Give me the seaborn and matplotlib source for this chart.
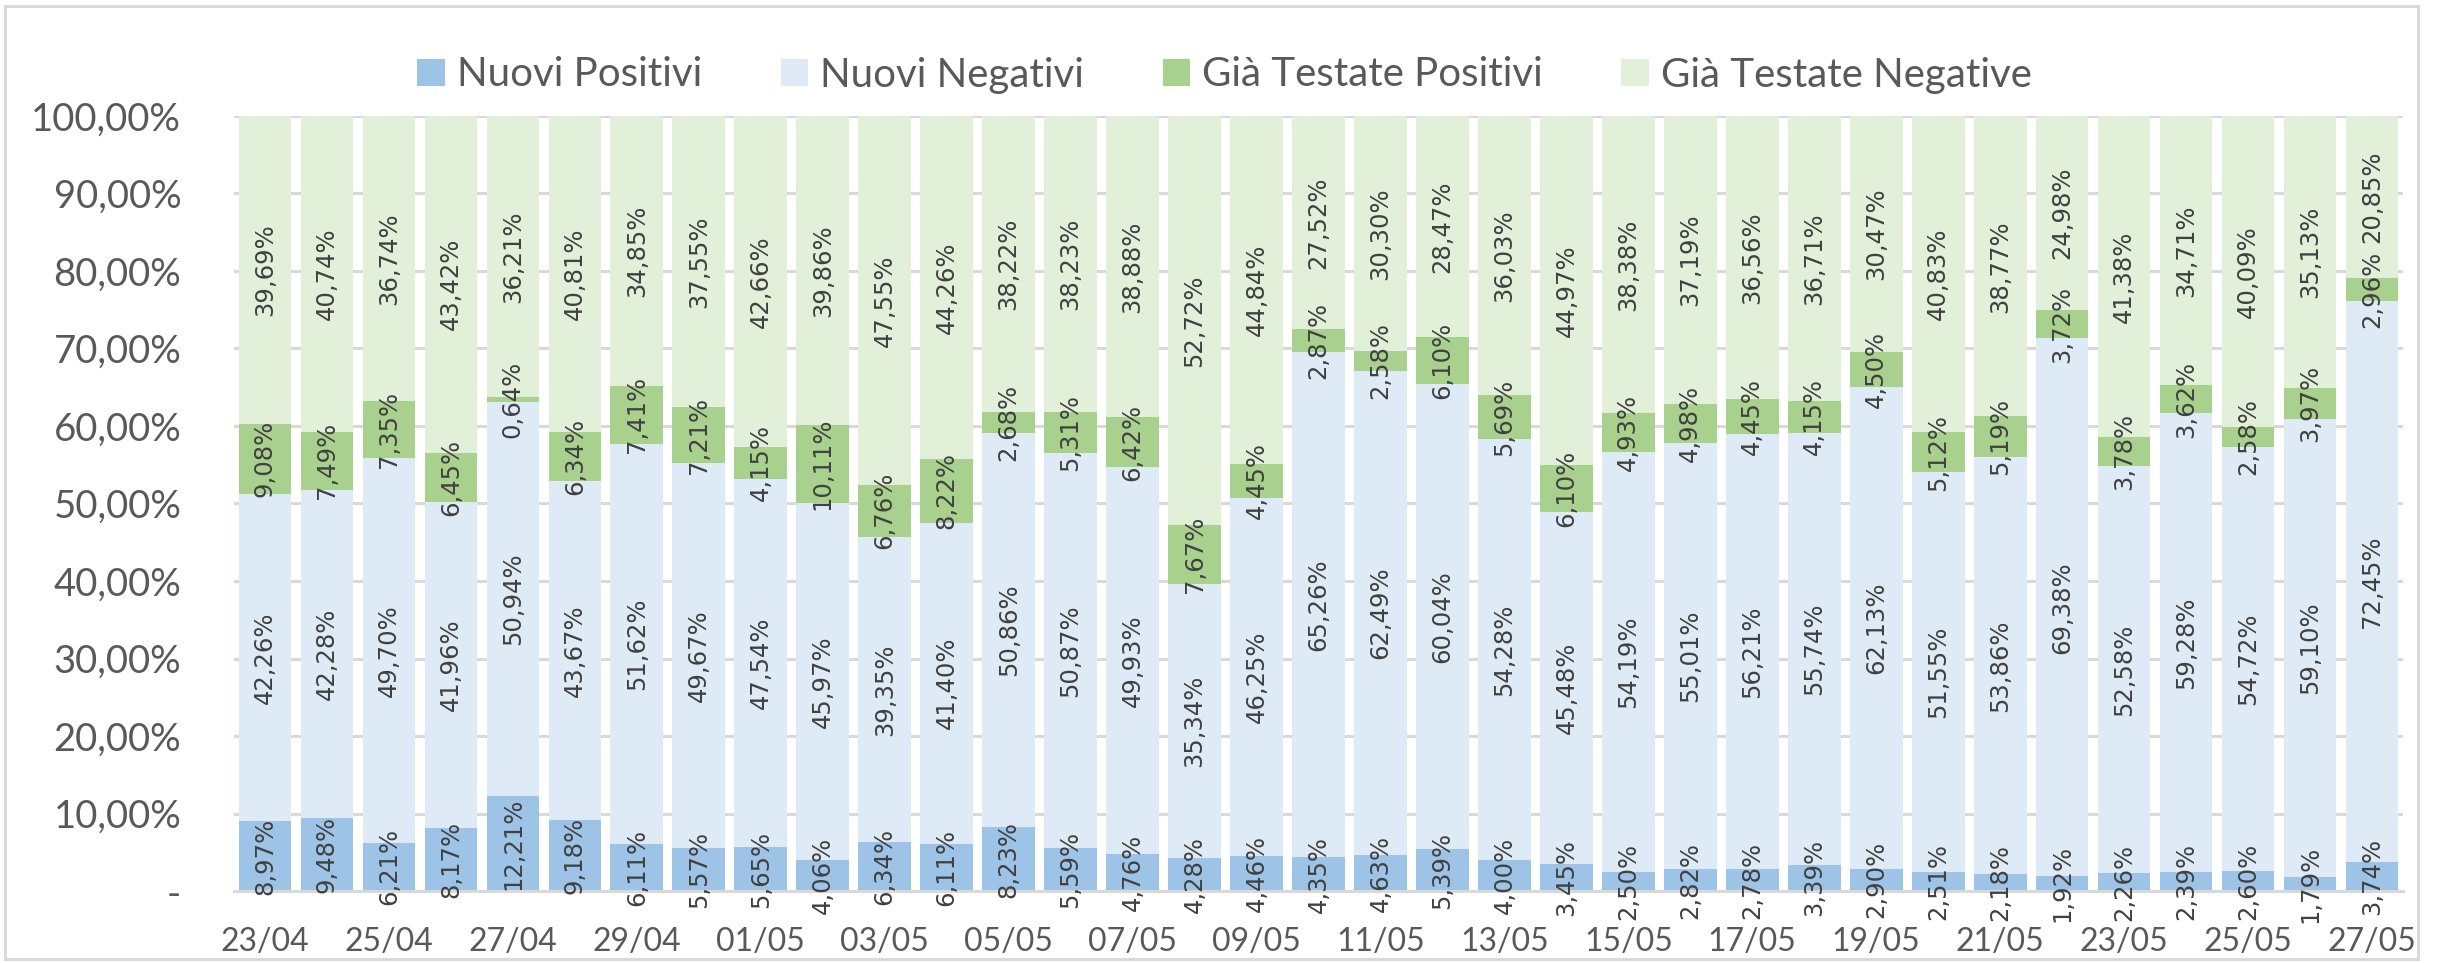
import numpy as np
import pandas as pd
import matplotlib
matplotlib.use("Agg")
import matplotlib.pyplot as plt
import seaborn as sns
from matplotlib.patches import Patch, Rectangle
from matplotlib.ticker import FuncFormatter

# ---------------- data ----------------
dates = ["23/04", "24/04", "25/04", "26/04", "27/04", "28/04", "29/04", "30/04",
         "01/05", "02/05", "03/05", "04/05", "05/05", "06/05", "07/05", "08/05",
         "09/05", "10/05", "11/05", "12/05", "13/05", "14/05", "15/05", "16/05",
         "17/05", "18/05", "19/05", "20/05", "21/05", "22/05", "23/05", "24/05",
         "25/05", "26/05", "27/05"]

nuovi_positivi = [8.97, 9.48, 6.21, 8.17, 12.21, 9.18, 6.11, 5.57, 5.65, 4.06, 6.34, 6.11,
                  8.23, 5.59, 4.76, 4.28, 4.46, 4.35, 4.63, 5.39, 4.00, 3.45, 2.50, 2.82,
                  2.78, 3.39, 2.90, 2.51, 2.18, 1.92, 2.26, 2.39, 2.60, 1.79, 3.74]
nuovi_negativi = [42.26, 42.28, 49.70, 41.96, 50.94, 43.67, 51.62, 49.67, 47.54, 45.97, 39.35, 41.40,
                  50.86, 50.87, 49.93, 35.34, 46.25, 65.26, 62.49, 60.04, 54.28, 45.48, 54.19, 55.01,
                  56.21, 55.74, 62.13, 51.55, 53.86, 69.38, 52.58, 59.28, 54.72, 59.10, 72.45]
gia_testate_positivi = [9.08, 7.49, 7.35, 6.45, 0.64, 6.34, 7.41, 7.21, 4.15, 10.11, 6.76, 8.22,
                        2.68, 5.31, 6.42, 7.67, 4.45, 2.87, 2.58, 6.10, 5.69, 6.10, 4.93, 4.98,
                        4.45, 4.15, 4.50, 5.12, 5.19, 3.72, 3.78, 3.62, 2.58, 3.97, 2.96]
gia_testate_negative = [39.69, 40.74, 36.74, 43.42, 36.21, 40.81, 34.85, 37.55, 42.66, 39.86, 47.55, 44.26,
                        38.22, 38.23, 38.88, 52.72, 44.84, 27.52, 30.30, 28.47, 36.03, 44.97, 38.38, 37.19,
                        36.56, 36.71, 30.47, 40.83, 38.77, 24.98, 41.38, 34.71, 40.09, 35.13, 20.85]

series_names = ["Nuovi Positivi", "Nuovi Negativi", "Già Testate Positivi", "Già Testate Negative"]
series_colors = ["#9DC3E6", "#DEEBF7", "#A9D18E", "#E2F0D9"]
y_ticks = [0, 10, 20, 30, 40, 50, 60, 70, 80, 90, 100]

df = pd.DataFrame({"data": dates,
                   series_names[0]: nuovi_positivi,
                   series_names[1]: nuovi_negativi,
                   series_names[2]: gia_testate_positivi,
                   series_names[3]: gia_testate_negative})

# ---------------- style ----------------
sns.set_theme(style="white")
plt.rcParams['font.family'] = ['Lato', 'DejaVu Sans']

W, H = 2441, 963
fig = plt.figure(figsize=(W / 100, H / 100), dpi=100)
fig.patch.set_facecolor("white")
ax = fig.add_axes([234 / W, 72 / H, (2403 - 234) / W, (891 - 116) / H])

GRID = "#D9D9D9"
TXT = "#595959"

bottom = np.zeros(len(df))
for name, col in zip(series_names, series_colors):
    vals = df[name].to_numpy()
    sns.barplot(x=df["data"], y=vals, color=col, saturation=1, width=0.85,
                bottom=bottom, errorbar=None, ax=ax, zorder=3, linewidth=0)
    bottom = bottom + vals

# data labels
for cont, name in zip(ax.containers, series_names):
    labs = [f"{v:.2f}".replace(".", ",") + "%" for v in df[name]]
    ax.bar_label(cont, labels=labs, label_type="center", rotation=90,
                 fontsize=17.5, color="#404040", family="DejaVu Sans", zorder=6)

# axes
ax.set_xlim(-0.5, len(dates) - 0.5)
ax.set_ylim(0, 100)
ax.set_xlabel("")
ax.set_ylabel("")
ax.set_yticks(y_ticks)
ax.yaxis.set_major_formatter(FuncFormatter(
    lambda v, p: "-" if v == 0 else f"{v:.2f}".replace(".", ",") + "%"))
ax.tick_params(axis="y", length=0, pad=38, labelsize=27.5, labelcolor=TXT)
ax.set_axisbelow(True)
ax.yaxis.grid(True, color=GRID, linewidth=2.2)
ax.xaxis.grid(False)

ax.set_xticks(range(0, len(dates), 2), labels=dates[::2])
ax.set_xticks(np.arange(-0.5, len(dates) - 1, 2), minor=True)
ax.tick_params(axis="x", which="major", length=0, pad=26, labelsize=23, labelcolor=TXT)
ax.tick_params(axis="x", which="minor", length=8, width=2.2, color=GRID, direction="out")

for s in ["left", "right", "top"]:
    ax.spines[s].set_visible(False)
ax.spines["bottom"].set_color(GRID)
ax.spines["bottom"].set_linewidth(2.2)
ax.spines["bottom"].set_zorder(4)

# legend
handles = [Patch(facecolor=c, edgecolor="none") for c in series_colors]
fig.legend(handles, series_names, ncol=4, loc="center",
           bbox_to_anchor=((429 + 2020) / 2 / W, 1 - 75 / H), frameon=False,
           fontsize=29, labelcolor=TXT, handlelength=0.68, handleheight=0.68,
           handletextpad=0.3, columnspacing=1.95)

# chart border
fig.patches.append(Rectangle((5 / W, 4 / H), (2418 - 5) / W, (958 - 5) / H,
                             transform=fig.transFigure, fill=False,
                             edgecolor=GRID, linewidth=2.2))

fig.savefig("out.png", dpi=100)
